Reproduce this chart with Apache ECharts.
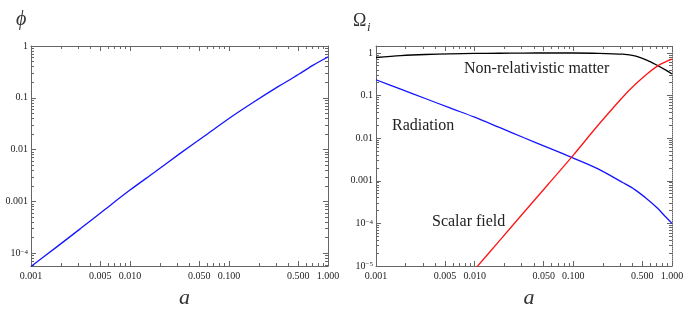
<!DOCTYPE html>
<html>
<head>
<meta charset="utf-8">
<script src="https://cdn.jsdelivr.net/npm/echarts@6/dist/echarts.min.js"></script>
<style>
  html, body { margin: 0; padding: 0; background: #fff; }
  #chart { width: 692px; height: 321px; }
</style>
</head>
<body>
<div id="chart"></div>
<script>
// scale factor a, shared by both panels
const aValues = [0.001, 0.00178, 0.00316, 0.00562, 0.01, 0.0178, 0.0316, 0.0562, 0.1, 0.178, 0.316, 0.42, 0.562, 0.71, 0.84, 1.0];
// left panel: scalar field phi
const phiValues = [5.6e-5, 1.29e-4, 3.0e-4, 7.1e-4, 1.66e-3, 3.7e-3, 8.3e-3, 0.0182, 0.040, 0.083, 0.166, 0.229, 0.324, 0.427, 0.513, 0.617];
// right panel: density parameters
const matterValues = [0.78, 0.86, 0.915, 0.95, 0.97, 0.98, 0.99, 0.994, 0.993, 0.978, 0.93, 0.85, 0.67, 0.51, 0.41, 0.32];
const radiationValues = [0.234, 0.141, 0.085, 0.051, 0.031, 0.0178, 0.0102, 0.0059, 0.0034, 0.0019, 0.00091, 0.00062, 0.00037, 0.00023, 0.000151, 0.0001];
const scalarValues = [null, null, null, null, 8.3e-6, 3.9e-5, 1.82e-4, 8.5e-4, 0.0040, 0.020, 0.091, 0.178, 0.324, 0.49, 0.60, 0.71];

// tick labels
const aTicks = [0.001, 0.005, 0.01, 0.05, 0.1, 0.5, 1];
const phiTicks = [1e-4, 0.001, 0.01, 0.1, 1];
const omegaTicks = [1e-5, 1e-4, 0.001, 0.01, 0.1, 1];

const frameColor = '#666';
const labelColor = '#222';
const serif = '"Liberation Serif", "DejaVu Serif", serif';

// minor ticks at 2..9 times each decade, skipping the major ones
function minorTicks(lo, hi, major) {
    const out = [];
    for (let k = Math.floor(Math.log10(lo)); k <= Math.ceil(Math.log10(hi)); k++) {
        for (let n = 1; n <= 9; n++) {
            const v = n * Math.pow(10, k);
            if (v < lo * 0.999 || v > hi * 1.001) continue;
            if (major.some(m => Math.abs(m - v) < m * 1e-6)) continue;
            out.push(v);
        }
    }
    return out;
}

function aLabel(v) { return v.toFixed(3); }
function powLabel(v) {
    if (v >= 0.001) return String(+v.toPrecision(3));
    return '10{sup|\u2212' + Math.round(-Math.log10(v)) + '}';
}

const labelStyle = {
    color: labelColor, fontFamily: serif, fontSize: 10,
    rich: { sup: { fontSize: 7, fontFamily: serif, color: labelColor, verticalAlign: 'top' } }
};

// four frame sides per panel, major + minor tick axis on each side
function frameAxes(kind, grid, range, major, fmt, dottedSide, name) {
    const sides = kind === 'x' ? ['bottom', 'top'] : ['left', 'right'];
    const minor = minorTicks(range[0], range[1], major);
    const axes = [];
    sides.forEach((pos, s) => {
        [major, minor].forEach((ticks, m) => {
            const ax = {
                type: 'log', logBase: 10, gridIndex: grid, position: pos,
                min: range[0], max: range[1],
                axisLine: { show: m === 0, lineStyle: { color: frameColor, width: 1, type: pos === dottedSide ? 'dotted' : 'solid' } },
                axisTick: { show: true, inside: true, length: m === 0 ? 5 : 3, customValues: ticks, lineStyle: { color: frameColor, width: 1 } },
                axisLabel: Object.assign({ show: s === 0 && m === 0, customValues: major, formatter: fmt, margin: kind === 'x' ? 5 : 3 }, labelStyle),
                splitLine: { show: false },
                minorTick: { show: false }
            };
            if (s === 0 && m === 0 && name) {
                ax.name = name;
                ax.nameLocation = 'middle';
                ax.nameGap = 21;
                ax.nameTextStyle = { fontFamily: serif, fontStyle: 'italic', fontSize: 22, color: '#333', padding: [0, 0, 0, 10] };
            }
            axes.push(ax);
        });
    });
    return axes;
}

const xAxes = [].concat(
    frameAxes('x', 0, [0.001, 1], aTicks, aLabel, null, 'a'),
    frameAxes('x', 1, [0.001, 1], aTicks, aLabel, null, 'a')
);
const yAxes = [].concat(
    frameAxes('y', 0, [5.7e-5, 1], phiTicks, powLabel, null),
    frameAxes('y', 1, [1e-5, 1.45], omegaTicks, powLabel, 'right')
);

function pairs(ys) { return aValues.map((a, i) => [a, ys[i]]); }

function curve(name, ys, color, idx) {
    return {
        name: name, type: 'line', data: pairs(ys),
        xAxisIndex: idx, yAxisIndex: idx,
        showSymbol: false, connectNulls: false, clip: true, smooth: 0.3,
        lineStyle: { color: color, width: 1.3 },
        itemStyle: { color: color }
    };
}

const chartDom = document.getElementById('chart');
const myChart = echarts.init(chartDom);

const option = {
    animation: false,
    backgroundColor: '#fff',
    grid: [
        { left: 31, top: 46, width: 297, height: 220, outerBoundsMode: 'none' },
        { left: 376, top: 46, width: 296, height: 220, outerBoundsMode: 'none' }
    ],
    xAxis: xAxes,
    yAxis: yAxes,
    series: [
        curve('phi', phiValues, '#1414ff', 0),
        curve('Non-relativistic matter', matterValues, '#000', 4),
        curve('Radiation', radiationValues, '#1414ff', 4),
        curve('Scalar field', scalarValues, '#ff1414', 4)
    ],
    graphic: [
        { type: 'text', left: 16, top: 10, style: { text: '\u03d5', font: 'italic 20px ' + serif, fill: '#333' } },
        { type: 'text', left: 353, top: 12, style: { text: '\u03a9', font: '18px ' + serif, fill: '#333' } },
        { type: 'text', left: 367, top: 21, style: { text: 'i', font: 'italic 13px ' + serif, fill: '#333' } },
        { type: 'text', left: 464, top: 61, style: { text: 'Non-relativistic matter', font: '16px ' + serif, fill: '#222' } },
        { type: 'text', left: 392, top: 118, style: { text: 'Radiation', font: '16px ' + serif, fill: '#222' } },
        { type: 'text', left: 432, top: 214, style: { text: 'Scalar field', font: '16px ' + serif, fill: '#222' } }
    ]
};

myChart.setOption(option);
</script>
</body>
</html>
